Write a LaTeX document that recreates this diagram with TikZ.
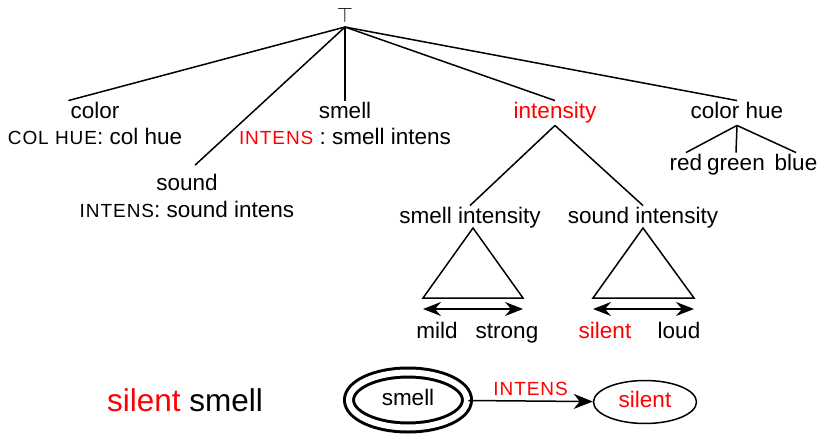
\documentclass[tikz,border=0pt]{standalone}
\usepackage{fontspec}
\setmainfont{Liberation Sans}
\usetikzlibrary{arrows.meta,shapes.geometric}
\newcommand{\feat}[1]{{\fontsize{19}{22}\selectfont\addfontfeature{LetterSpace=5}#1}}

\begin{document}
\begin{tikzpicture}[x=1pt,y=-1pt,
    lbl/.style={font=\fontsize{22.5}{26}\selectfont, inner sep=2pt, text height=16pt, text depth=4.5pt, yshift=-3pt},
    ln/.style={line width=1.5pt},
    arr/.style={line width=1.5pt,-{Stealth[length=19pt,width=15pt,inset=6pt]}},
    both/.style={line width=1.5pt,{Stealth[length=18pt,width=14pt,inset=6pt]}-{Stealth[length=18pt,width=14pt,inset=6pt]}}]
    \useasboundingbox (0,0) rectangle (820,434);
    % the hierarchy
    \node[font=\fontsize{22.5}{26}\selectfont,inner sep=0pt] (top) at (345,15) {$\top$};
    \coordinate (root) at (345,27);
    \node[lbl] (color) at (95,110) {color};
    \node[lbl] (colfeat) at (95,136) {\feat{COL HUE}: col hue};
    \node[lbl] (sound) at (187,182) {sound};
    \node[lbl] (soundfeat) at (187,209) {\feat{INTENS}: sound intens};
    \node[lbl] (smell) at (345,110) {smell};
    \node[lbl] (smellfeat) at (345,136) {\textcolor{red}{\feat{INTENS}} : smell intens};
    \node[lbl,text=red] (intensity) at (555,110) {intensity};
    \node[lbl] (colhue) at (737,110) {color hue};
    \draw[ln] (root) -- (color.north west);
    \draw[ln,shorten >=11pt] (root) -- (sound.north);
    \draw[ln] (root) -- (smell.north);
    \draw[ln] (root) -- (intensity.north);
    \draw[ln] (root) -- (colhue.north);
    % color hue values
    \node[lbl] (redval) at (686,162) {red};
    \node[lbl] (greenval) at (736,162) {green};
    \node[lbl] (blueval) at (796,162) {blue};
    \draw[ln] (colhue.south) -- (redval.north);
    \draw[ln] (colhue.south) -- (greenval.north);
    \draw[ln] (colhue.south) -- (blueval.north);
    % intensity scales
    \node[lbl] (smellint) at (470,215) {smell intensity};
    \node[lbl] (soundint) at (643,215) {sound intensity};
    \draw[ln] (intensity.south) -- (smellint.north);
    \draw[ln] (intensity.south) -- (soundint.north);
    \draw[ln] (473,228) coordinate (sapex) -- (423,298) coordinate (sleft) -- (523,298) coordinate (sright) -- cycle;
    \draw[ln] (643,228) coordinate (tapex) -- (593,298) coordinate (tleft) -- (694,298) coordinate (tright) -- cycle;
    \coordinate (smild) at (423,309);
    \coordinate (sstrong) at (523,309);
    \coordinate (tsilent) at (593,309);
    \coordinate (tloud) at (694,309);
    \draw[both] (smild) -- (sstrong);
    \draw[both] (tsilent) -- (tloud);
    \node[lbl] (mild) at (437,330) {mild};
    \node[lbl] (strong) at (507,330) {strong};
    \node[lbl,text=red] (silent) at (605,330) {silent};
    \node[lbl] (loud) at (679,330) {loud};
    % the phrase and its graph
    \node[font=\fontsize{31.5}{36}\selectfont] (phrase) at (185,400) {\textcolor{red}{silent} smell};
    \node[lbl,draw,ellipse,line width=3pt,double,double distance=6pt,yshift=3pt,
          minimum width=118pt,minimum height=55pt] (smellnode) at (408,400) {smell};
    \node[lbl,draw,ellipse,line width=1.5pt,text=red,yshift=3pt,
          minimum width=103pt,minimum height=43pt] (silentnode) at (645,402) {silent};
    \draw[arr] (smellnode) -- (silentnode) node[midway,above=1pt,text=red] {\feat{INTENS}};
\end{tikzpicture}
\end{document}
